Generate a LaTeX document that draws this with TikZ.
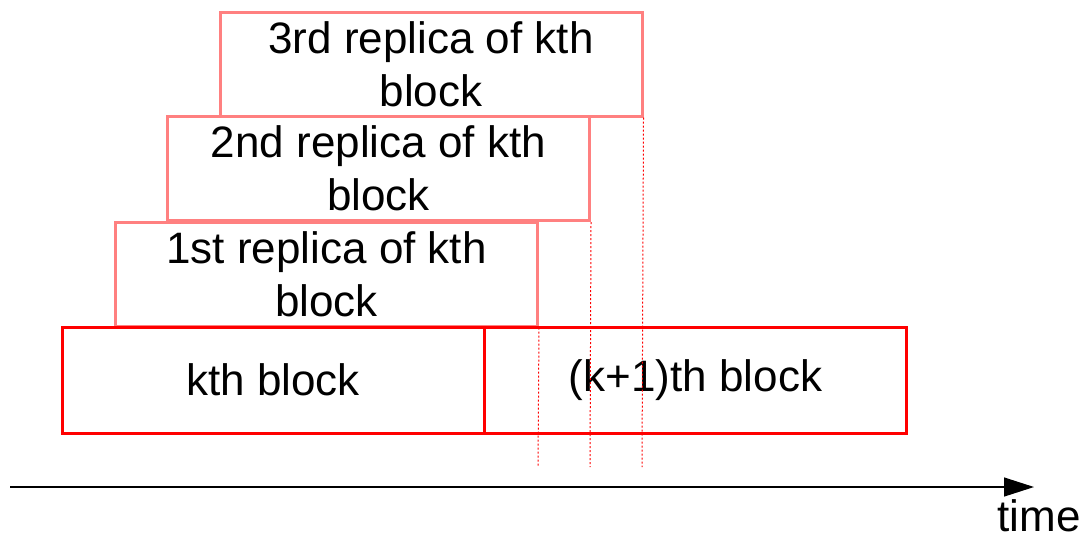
\documentclass[tikz,border=0pt]{standalone}
\usepackage{fontspec}
\setmainfont{Liberation Sans}
\usetikzlibrary{arrows.meta}
\definecolor{blkred}{RGB}{255,0,0}
\definecolor{reppink}{RGB}{255,128,128}
\tikzset{
  lbl/.style={font=\fontsize{22}{26.5}\selectfont, align=center, text=black},
  repbox/.style={lbl, draw=reppink, line width=1.5pt, minimum width=211pt, minimum height=52pt, inner sep=0pt, fill=white},
  blkbox/.style={lbl, draw=blkred, line width=1.5pt, minimum width=211pt, minimum height=53pt, inner sep=0pt},
  guide/.style={draw=blkred, line width=0.5pt, dash pattern=on 1pt off 1pt},
  axis/.style={draw=black, line width=0.65pt, -{Triangle[length=15pt,width=9.5pt]}}
}
\begin{document}
\begin{tikzpicture}[x=0.5pt,y=-0.5pt]
\useasboundingbox (0,0) rectangle (1091,538);
\node[repbox] (rep3) at (431,64) {3rd replica of kth\\block};
\node[repbox] (rep2) at (378.5,168.5) {2nd replica of kth\\block};
\node[repbox] (rep1) at (326.5,274) {1st replica of kth\\block};
\node[blkbox] (kb) at (273,380) {kth block};
\node[blkbox] (k1b) at (695.5,380) {(k+1)th block};
\coordinate (g1) at (538,467);
\coordinate (g2) at (590,467);
\coordinate (g3) at (642,467);
\draw[guide] (rep1.south east) -- (g1);
\draw[guide] (rep2.south east) -- (g2);
\draw[guide] (rep3.south east) -- (g3);
\coordinate (a0) at (10,487);
\coordinate (a1) at (1034,487);
\draw[axis] (a0) -- (a1);
\node[lbl, inner sep=0pt] (time) at (1039,516) {time};
\end{tikzpicture}
\end{document}
